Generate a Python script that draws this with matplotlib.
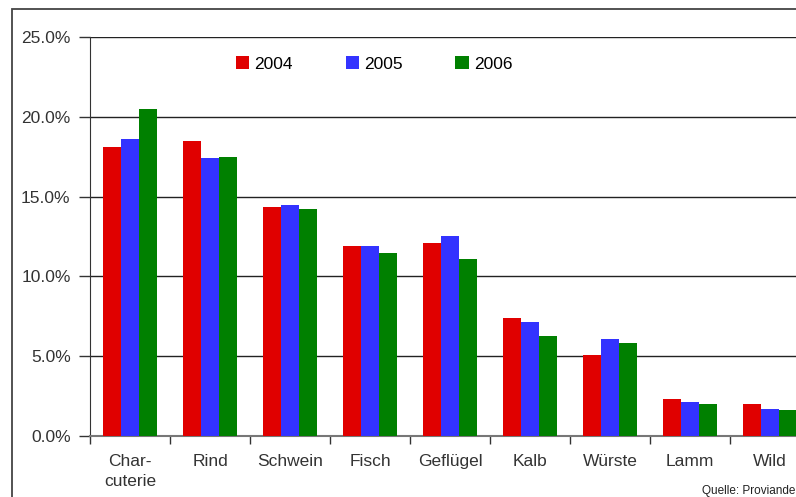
import numpy as np
import matplotlib
matplotlib.use("Agg")
import matplotlib.pyplot as plt
from matplotlib.patches import Rectangle
from matplotlib.ticker import FuncFormatter, FixedLocator

# === Data ===
categories = ["Char-\ncuterie", "Rind", "Schwein", "Fisch", "Geflügel",
              "Kalb", "Würste", "Lamm", "Wild"]
years = ["2004", "2005", "2006"]
share_2004 = [18.1, 18.5, 14.35, 11.9, 12.1, 7.4, 5.05, 2.3, 2.0]
share_2005 = [18.6, 17.4, 14.5, 11.9, 12.5, 7.15, 6.05, 2.1, 1.7]
share_2006 = [20.5, 17.5, 14.2, 11.45, 11.1, 6.25, 5.85, 2.0, 1.65]
colors = ["#E00000", "#3333FF", "#008000"]

plt.rcParams['font.family'] = ['Liberation Sans', 'DejaVu Sans']

W, H = 796, 497
fig = plt.figure(figsize=(W / 100, H / 100), dpi=100)
fig.patch.set_facecolor("white")

# outer chart frame (cut off on the right and bottom)
fig.patches.append(Rectangle((12 / W, -0.1), 1.2, 1 - 9 / H + 0.1,
                             transform=fig.transFigure, fill=False,
                             edgecolor="#444444", linewidth=1.3))

ax = fig.add_axes([90 / W, 1 - 436 / H, 720 / W, 399 / H])

x = np.arange(len(categories))
bw = 0.228
for i, (vals, c, lab) in enumerate(zip([share_2004, share_2005, share_2006], colors, years)):
    ax.bar(x + (i - 1) * bw, vals, width=bw, color=c, label=lab, zorder=3)

ax.set_xlim(-0.5, len(categories) - 0.5)
ax.set_ylim(0, 25)
ax.set_yticks(np.arange(0, 26, 5))
ax.yaxis.set_major_formatter(FuncFormatter(lambda v, p: f"{v:.1f}%"))
ax.grid(axis="y", color="#222222", linewidth=1.0, zorder=1)

ax.set_xticks(x)
ax.set_xticklabels(categories, fontsize=12.5, color="#333333", linespacing=1.45)
ax.xaxis.set_minor_locator(FixedLocator(np.arange(-0.5, len(categories), 1)))
ax.tick_params(axis="x", which="major", length=0, pad=13)
ax.tick_params(axis="x", which="minor", length=6, width=1, color="#333333")
ax.tick_params(axis="y", length=8, width=1, color="#333333", labelsize=12.5,
               labelcolor="#333333", pad=6)

for s in ["top", "right"]:
    ax.spines[s].set_visible(False)
ax.spines["left"].set_color("#333333")
ax.spines["bottom"].set_color("#777777")
ax.spines["bottom"].set_linewidth(1.5)

ax.legend(loc="center left", bbox_to_anchor=(146 / 720, (436 - 64) / 399), ncol=3,
          frameon=False, fontsize=12.5, handlelength=0.75, handleheight=0.75,
          handletextpad=0.3, columnspacing=3.05, borderpad=0, borderaxespad=0)

fig.text(795 / W, 1 - 491 / H, "Quelle: Proviande", ha="right", va="center",
         fontsize=8.5, color="#222222")

fig.savefig("out.png", dpi=100)
